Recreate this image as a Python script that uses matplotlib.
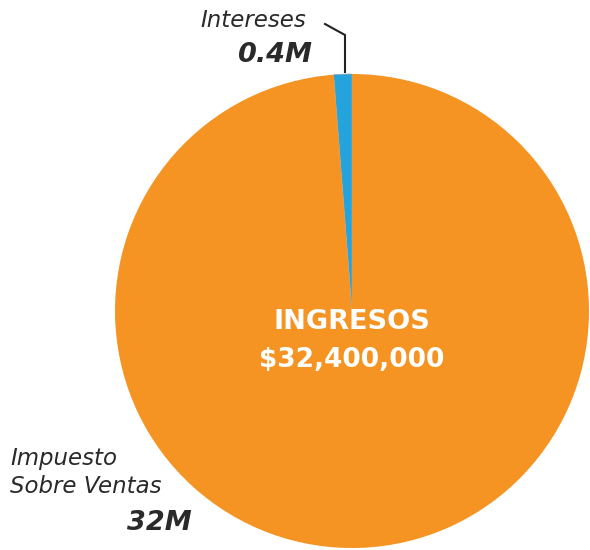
import matplotlib
matplotlib.use('Agg')
import matplotlib.pyplot as plt

# Data (millions)
labels = ['Intereses', 'Impuesto\nSobre Ventas']
values = [0.4, 32.0]
value_labels = ['0.4M', '32M']
total_label = '$32,400,000'
colors = ['#24A3DC', '#F59422']

W, H = 590, 550
text_color = '#2a2a2a'
font = 'DejaVu Sans'

fig = plt.figure(figsize=(W / 100, H / 100), dpi=100)
ax = fig.add_axes([0, 0, 1, 1])

cx, cy, r = 352, H - 311, 237
wedges, _ = ax.pie(values, colors=colors, startangle=90, counterclock=True,
                   center=(cx, cy), radius=r, frame=True,
                   wedgeprops={'linewidth': 0})
wedges[0].set_edgecolor('#9fa9ad')
wedges[0].set_linewidth(0.5)
ax.set_xlim(0, W)
ax.set_ylim(0, H)
ax.set_aspect('equal')
ax.axis('off')

# center label
ax.text(cx, H - 329, 'INGRESOS', color='white', fontsize=19.5, fontweight='bold',
        family=font, ha='center', va='baseline')
ax.text(cx, H - 367, total_label, color='white', fontsize=19, fontweight='bold',
        family=font, ha='center', va='baseline')

# Intereses label + leader
ax.text(306, H - 27, labels[0], color=text_color, fontsize=16.5, style='italic',
        family=font, ha='right', va='baseline')
ax.text(312, H - 62, value_labels[0], color=text_color, fontsize=19.5, style='italic',
        fontweight='bold', family=font, ha='right', va='baseline')
ax.plot([325, 345, 345], [H - 24, H - 35, H - 72], color='#222222', lw=1.5,
        solid_joinstyle='miter')

# Impuesto label
ax.text(10, H - 493, labels[1], color=text_color, fontsize=16.5, style='italic',
        family=font, ha='left', va='baseline', linespacing=1.25)
ax.text(192, H - 530, value_labels[1], color=text_color, fontsize=19.5, style='italic',
        fontweight='bold', family=font, ha='right', va='baseline')

plt.savefig('out.png', dpi=100)
